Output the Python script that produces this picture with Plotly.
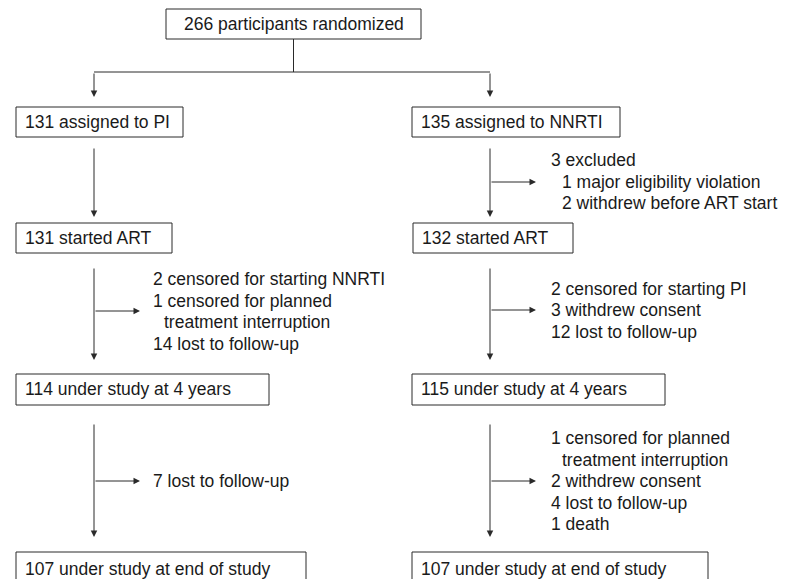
import plotly.graph_objects as go

# ---- content (text/counts) ----
top_label = "266 participants randomized"
left_boxes = ["131 assigned to PI", "131 started ART",
              "114 under study at 4 years", "107 under study at end of study"]
right_boxes = ["135 assigned to NNRTI", "132 started ART",
               "115 under study at 4 years", "107 under study at end of study"]
left_notes = [
    [],
    ["2 censored for starting NNRTI", "1 censored for planned",
     "  treatment interruption", "14 lost to follow-up"],
    ["7 lost to follow-up"],
]
right_notes = [
    ["3 excluded", "  1 major eligibility violation", "  2 withdrew before ART start"],
    ["2 censored for starting PI", "3 withdrew consent", "12 lost to follow-up"],
    ["1 censored for planned", "  treatment interruption", "2 withdrew consent",
     "4 lost to follow-up", "1 death"],
]

# ---- layout geometry (page pixels) ----
W, H = 786, 579
PAGE_MARGIN = 8  # default body margin of the html page
FONT = dict(family="Arial, Liberation Sans, sans-serif", size=17.5, color="#1a1a1a")
LINE = dict(color="#2a2a2a", width=1)

top_box = (166, 421, 9, 39)
col_x = [94, 490]
box_rows = [(107, 137), (223, 253), (374, 405), (552, 586)]
left_x = [(16, 183), (16, 172), (16, 269), (16, 306)]
right_x = [(412, 620), (413, 573), (412, 665), (412, 708)]
split_y = 72
arrow_segments = [(147, 217), (267, 360), (423, 537)]
left_branch_y = [None, 311, 481]
right_branch_y = [182, 310, 481]
left_note_y = [[], [279, 300.5, 322, 343.5], [481]]
right_note_y = [[160, 181.5, 203], [288.5, 310, 331.5], [438, 459.5, 481, 502.5, 524]]
left_note_x = 151
right_note_x = 549
indent = 11
branch_len = 46

fig = go.Figure()
shapes = []
annotations = []


def rect(x0, x1, y0, y1):
    shapes.append(dict(type="rect", x0=x0, x1=x1, y0=y0, y1=y1,
                       xref="x", yref="y", line=LINE, fillcolor="white"))


def line(x0, y0, x1, y1):
    shapes.append(dict(type="line", x0=x0, x1=x1, y0=y0, y1=y1,
                       xref="x", yref="y", line=LINE))


def arrow(x0, y0, x1, y1):
    annotations.append(dict(x=x1, y=y1, ax=x0, ay=y0, xref="x", yref="y",
                            axref="x", ayref="y", text="", showarrow=True,
                            arrowhead=2, arrowsize=1.3, arrowwidth=1,
                            arrowcolor=LINE["color"], standoff=0, startstandoff=0))


def text(x, y, s, anchor="left"):
    indent_px = 0
    if s.startswith("  "):
        indent_px = indent
        s = s.strip()
    annotations.append(dict(x=x + indent_px, y=y, text=s, showarrow=False,
                            xref="x", yref="y", xanchor=anchor, yanchor="middle",
                            font=FONT))


# top box
x0, x1, y0, y1 = top_box
rect(x0, x1, y0, y1)
text((x0 + x1) / 2, (y0 + y1) / 2, top_label, anchor="center")
mid = (x0 + x1) / 2
line(mid, y1, mid, split_y)
line(col_x[0], split_y, col_x[1], split_y)
for cx in col_x:
    arrow(cx, split_y, cx, box_rows[0][0] - 10)

# boxes
for (ya, yb), (xa, xb), lab in zip(box_rows, left_x, left_boxes):
    rect(xa, xb, ya, yb)
    text(xa + 7, (ya + yb) / 2 - 0.5, lab)
for (ya, yb), (xa, xb), lab in zip(box_rows, right_x, right_boxes):
    rect(xa, xb, ya, yb)
    text(xa + 7, (ya + yb) / 2 - 0.5, lab)

# arrows & notes
for i, (sa, sb) in enumerate(arrow_segments):
    for cx, by, notes, ny, nx in [
        (col_x[0], left_branch_y[i], left_notes[i], left_note_y[i], left_note_x),
        (col_x[1], right_branch_y[i], right_notes[i], right_note_y[i], right_note_x),
    ]:
        arrow(cx, sa, cx, sb)
        if by is not None:
            arrow(cx, by, cx + branch_len, by)
        for s, yy in zip(notes, ny):
            text(nx, yy, s)

fig.update_layout(
    width=W - PAGE_MARGIN, height=H - PAGE_MARGIN,
    margin=dict(l=0, r=0, t=0, b=0),
    paper_bgcolor="white", plot_bgcolor="white",
    xaxis=dict(range=[PAGE_MARGIN, W], visible=False, fixedrange=True),
    yaxis=dict(range=[H, PAGE_MARGIN], visible=False, fixedrange=True),
    shapes=shapes, annotations=annotations, showlegend=False,
)

fig.write_html("out.html")
